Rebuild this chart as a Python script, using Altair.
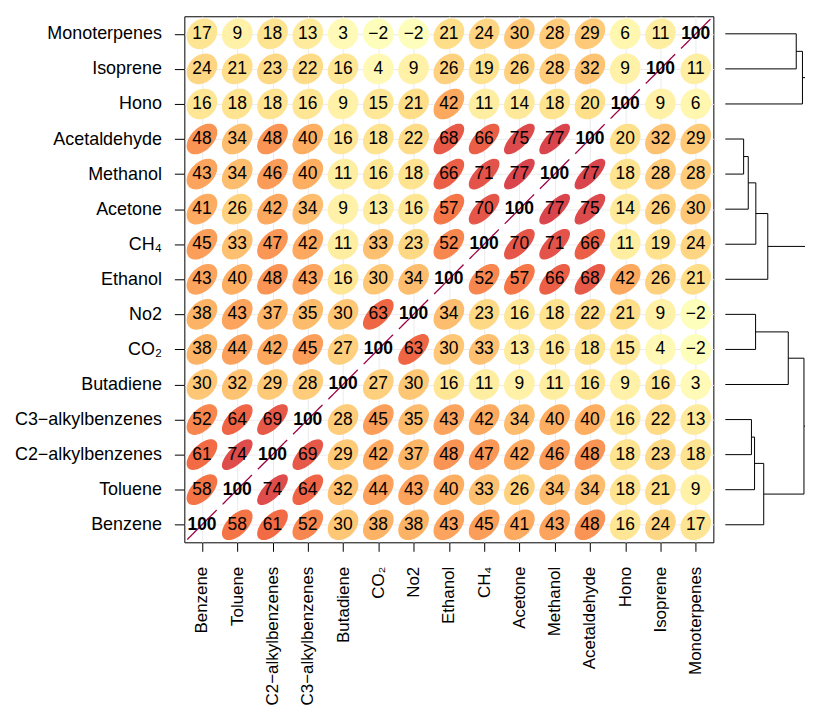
import math
import altair as alt
import pandas as pd

# ---- variable order (rows top -> bottom) ----
rows = ["Monoterpenes", "Isoprene", "Hono", "Acetaldehyde", "Methanol", "Acetone",
        "CH₄", "Ethanol", "No2", "CO₂", "Butadiene", "C3−alkylbenzenes",
        "C2−alkylbenzenes", "Toluene", "Benzene"]
cols = ["Benzene", "Toluene", "C2−alkylbenzenes", "C3−alkylbenzenes", "Butadiene",
        "CO₂", "No2", "Ethanol", "CH₄", "Acetone", "Methanol", "Acetaldehyde",
        "Hono", "Isoprene", "Monoterpenes"]

# ---- correlation values (x100), each row listed in column order ----
r_monoterpenes = [17, 9, 18, 13, 3, -2, -2, 21, 24, 30, 28, 29, 6, 11, 100]
r_isoprene     = [24, 21, 23, 22, 16, 4, 9, 26, 19, 26, 28, 32, 9, 100, 11]
r_hono         = [16, 18, 18, 16, 9, 15, 21, 42, 11, 14, 18, 20, 100, 9, 6]
r_acetaldehyde = [48, 34, 48, 40, 16, 18, 22, 68, 66, 75, 77, 100, 20, 32, 29]
r_methanol     = [43, 34, 46, 40, 11, 16, 18, 66, 71, 77, 100, 77, 18, 28, 28]
r_acetone      = [41, 26, 42, 34, 9, 13, 16, 57, 70, 100, 77, 75, 14, 26, 30]
r_ch4          = [45, 33, 47, 42, 11, 33, 23, 52, 100, 70, 71, 66, 11, 19, 24]
r_ethanol      = [43, 40, 48, 43, 16, 30, 34, 100, 52, 57, 66, 68, 42, 26, 21]
r_no2          = [38, 43, 37, 35, 30, 63, 100, 34, 23, 16, 18, 22, 21, 9, -2]
r_co2          = [38, 44, 42, 45, 27, 100, 63, 30, 33, 13, 16, 18, 15, 4, -2]
r_butadiene    = [30, 32, 29, 28, 100, 27, 30, 16, 11, 9, 11, 16, 9, 16, 3]
r_c3           = [52, 64, 69, 100, 28, 45, 35, 43, 42, 34, 40, 40, 16, 22, 13]
r_c2           = [61, 74, 100, 69, 29, 42, 37, 48, 47, 42, 46, 48, 18, 23, 18]
r_toluene      = [58, 100, 74, 64, 32, 44, 43, 40, 33, 26, 34, 34, 18, 21, 9]
r_benzene      = [100, 58, 61, 52, 30, 38, 38, 43, 45, 41, 43, 48, 16, 24, 17]

row_values = [r_monoterpenes, r_isoprene, r_hono, r_acetaldehyde, r_methanol,
              r_acetone, r_ch4, r_ethanol, r_no2, r_co2, r_butadiene, r_c3,
              r_c2, r_toluene, r_benzene]

# ---- colour scale (reversed Spectral over -100..100) ----
col_domain = [-100, -80, -60, -40, -20, 0, 20, 40, 60, 80, 100]
col_range = ["#5E4FA2", "#3288BD", "#66C2A5", "#ABDDA4", "#E6F598", "#FFFFBF",
             "#FEE08B", "#FDAE61", "#F46D43", "#D53E4F", "#9E0142"]

# ---- dendrogram merges: (child A, child B, merge height) ----
merge_a = ["Monoterpenes", "m1", "Acetaldehyde", "m3", "m4", "m5", "No2", "m7",
           "C3−alkylbenzenes", "m9", "m10", "m8", "m6", "m2"]
merge_b = ["Isoprene", "Hono", "Methanol", "Acetone", "CH₄", "Ethanol", "CO₂",
           "Butadiene", "C2−alkylbenzenes", "Toluene", "Benzene", "m11", "m12", "m13"]
merge_h = [0.89, 0.968, 0.23, 0.288, 0.383, 0.533, 0.38, 0.79, 0.328, 0.367,
           0.482, 0.987, 1.15, 1.2]


def ellipse_path(r, n=50):
    rho = max(-1.0, min(1.0, r / 100.0))
    d = math.acos(rho)
    pts = []
    for k in range(n):
        t = 2 * math.pi * k / (n - 1)
        pts.append((math.cos(t + d / 2), -math.cos(t - d / 2)))
    return "M" + "L".join(f"{x:.4f},{y:.4f}" for x, y in pts) + "Z"


recs = []
for i, rname in enumerate(rows):
    for j, cname in enumerate(cols):
        v = row_values[i][j]
        recs.append({"row": rname, "col": cname, "r": v, "path": ellipse_path(v)})
df = pd.DataFrame(recs)

# dendrogram segments
pos = {name: (float(i), 0.0) for i, name in enumerate(rows)}
segs = []
for k, (a, b, h) in enumerate(zip(merge_a, merge_b, merge_h), start=1):
    ya, ha = pos[a]
    yb, hb = pos[b]
    segs.append({"x": ha, "x2": h, "y": ya, "y2": ya})
    segs.append({"x": hb, "x2": h, "y": yb, "y2": yb})
    segs.append({"x": h, "x2": h, "y": ya, "y2": yb})
    pos[f"m{k}"] = ((ya + yb) / 2, h)
dseg = pd.DataFrame(segs)

W, H = 531, 528
FONT = "Liberation Sans"

xenc = alt.X("col:N", sort=cols, scale=alt.Scale(paddingInner=0, paddingOuter=0),
             axis=alt.Axis(title=None, labelAngle=270, labelAlign="right",
                           labelBaseline="middle", labelFontSize=17, labelFont=FONT,
                           labelColor="black", tickColor="black", tickSize=9,
                           labelPadding=15, domain=False, grid=True,
                           gridColor="#ebebeb", labelLimit=400))
yenc = alt.Y("row:N", sort=rows, scale=alt.Scale(paddingInner=0, paddingOuter=0),
             axis=alt.Axis(title=None, labelFontSize=18, labelFont=FONT,
                           labelColor="black", tickColor="black", tickSize=10,
                           labelPadding=13, domain=False, grid=True,
                           gridColor="#ebebeb", labelLimit=400,
                           minExtent=171, maxExtent=171))

base = alt.Chart(df).encode(x=xenc, y=yenc)

ell = base.mark_point(filled=True, opacity=1, strokeWidth=1.3, size=29.5 ** 2).encode(
    shape=alt.Shape("path:N", scale=None),
    fill=alt.Fill("r:Q", scale=alt.Scale(domain=col_domain, range=col_range,
                                         interpolate="rgb"), legend=None),
    stroke=alt.Stroke("r:Q", scale=alt.Scale(domain=col_domain, range=col_range,
                                             interpolate="rgb"), legend=None),
)

txt = base.mark_text(font=FONT, fontSize=17.5, color="black").encode(
    text="r:Q").transform_filter("datum.r < 100")
txt_bold = base.mark_text(font=FONT, fontSize=17.5, color="black", fontWeight="bold").encode(
    text="r:Q").transform_filter("datum.r >= 100")

main = alt.layer(ell, txt, txt_bold).properties(width=W, height=H)

dw = 90
px_per_unit = 80
dmin = -10 / px_per_unit
dmax = dmin + dw / px_per_unit

# segments beyond the visible panel edge are clamped (horizontals) or dropped (verticals)
dendro = alt.Chart(dseg).transform_filter(
    f"min(datum.x, datum.x2) < {dmax}"
).mark_rule(color="black", strokeWidth=1, clip=True).encode(
    x=alt.X("x:Q", scale=alt.Scale(domain=[dmin, dmax], nice=False, zero=False,
                                   clamp=True), axis=None),
    x2="x2:Q",
    y=alt.Y("y:Q", scale=alt.Scale(domain=[-0.5, 14.5], nice=False, zero=False,
                                   reverse=True), axis=None),
    y2="y2:Q",
).properties(width=dw, height=H, view=alt.ViewBackground(stroke="transparent"))

chart = alt.hconcat(main, dendro, spacing=0).properties(
    padding={"left": 5, "top": 6, "right": 0, "bottom": 0}
).configure_view(stroke="black", strokeWidth=1)

chart.save("out.html", embed_options={"renderer": "svg", "actions": False})
